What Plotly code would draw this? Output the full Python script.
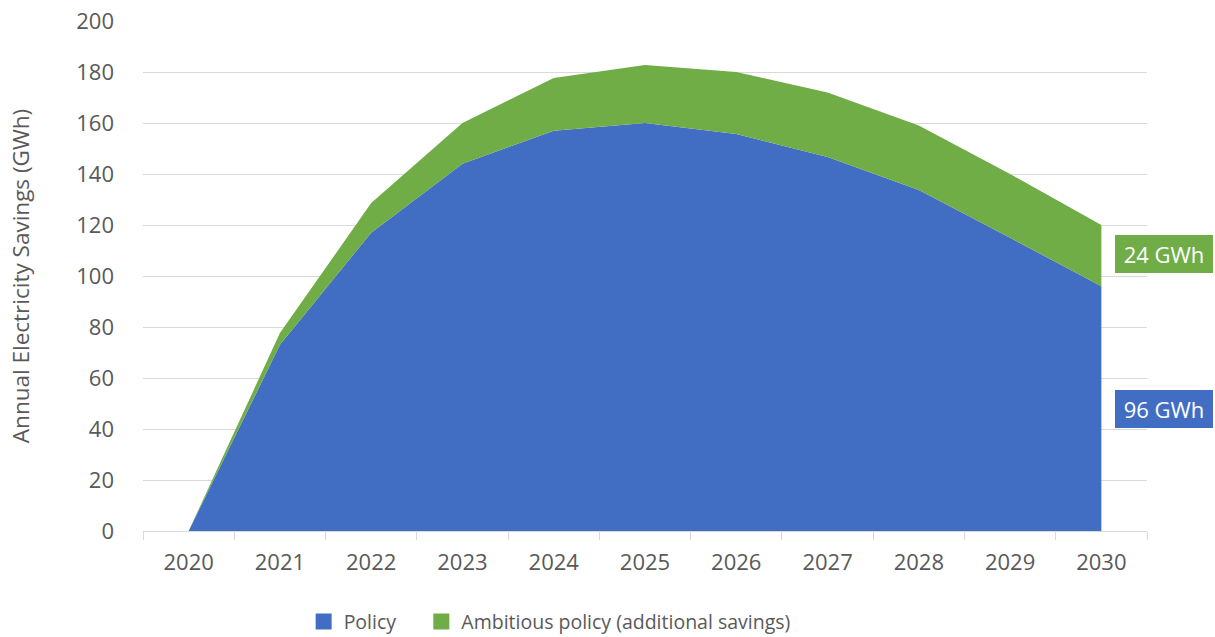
import plotly.graph_objects as go

years = ["2020", "2021", "2022", "2023", "2024", "2025", "2026", "2027", "2028", "2029", "2030"]
policy = [0, 73, 117, 144, 157, 160, 155.7, 146.7, 133.7, 115, 96]
ambitious_extra = [0, 4.6, 11.6, 16, 20.6, 22.7, 24.3, 25.3, 25.3, 25, 24]
label_policy = "96 GWh"
label_ambitious = "24 GWh"

blue = "#416EC3"
green = "#70AD47"
txt = "#595959"
font_family = "Open Sans, Liberation Sans, sans-serif"

fig = go.Figure()
fig.add_trace(go.Scatter(x=years, y=policy, stackgroup="s", mode="none",
                         fillcolor=blue, line=dict(width=0), showlegend=False,
                         hoverinfo="x+y", name="Policy"))
fig.add_trace(go.Scatter(x=years, y=ambitious_extra, stackgroup="s", mode="none",
                         fillcolor=green, line=dict(width=0), showlegend=False,
                         hoverinfo="x+y", name="Ambitious policy (additional savings)"))
# legend entries with square symbols
fig.add_trace(go.Scatter(x=[None], y=[None], mode="markers", name="Policy\u00a0\u00a0\u00a0\u00a0",
                         marker=dict(symbol="square", size=16, color=blue)))
fig.add_trace(go.Scatter(x=[None], y=[None], mode="markers",
                         name="Ambitious policy (additional savings)",
                         marker=dict(symbol="square", size=16, color=green)))

fig.add_annotation(x=1.017, xref="paper", y=108.5, yref="y", text=label_ambitious,
                   showarrow=False, bgcolor=green, font=dict(color="white", size=22, family=font_family),
                   borderpad=0, borderwidth=0, width=98, height=38,
                   xanchor="center", yanchor="middle")
fig.add_annotation(x=1.017, xref="paper", y=48, yref="y", text=label_policy,
                   showarrow=False, bgcolor=blue, font=dict(color="white", size=22, family=font_family),
                   borderpad=0, borderwidth=0, width=98, height=38,
                   xanchor="center", yanchor="middle")

fig.update_layout(
    width=1215, height=637,
    margin=dict(l=143, r=68, t=21, b=106, autoexpand=False),
    plot_bgcolor="white", paper_bgcolor="white",
    font=dict(family=font_family, color=txt, size=22),
    legend=dict(orientation="h", x=0.16, xanchor="left", y=-0.178, yanchor="middle",
                traceorder="normal",
                font=dict(size=19.5, color=txt), itemsizing="trace"),
    xaxis=dict(type="category", range=[-0.5, 10.5], tickson="boundaries",
               ticks="outside", ticklen=8, tickcolor="#d9d9d9",
               showline=True, linecolor="#d9d9d9", linewidth=1,
               ticklabelstandoff=12,
               showgrid=False, tickfont=dict(size=22, color=txt)),
    yaxis=dict(range=[0, 200], dtick=20, showgrid=True, gridcolor="#d9d9d9",
               gridwidth=1, zeroline=False, showline=False,
               ticklabelstandoff=28, ticklabeloverflow="allow",
               tickfont=dict(size=22, color=txt),
               title=dict(text="Annual Electricity Savings (GWh)", font=dict(size=22.5, color=txt), standoff=40)),
)

fig.write_html("out.html", config={"displayModeBar": False},
               post_script="document.body.style.margin='0';")
